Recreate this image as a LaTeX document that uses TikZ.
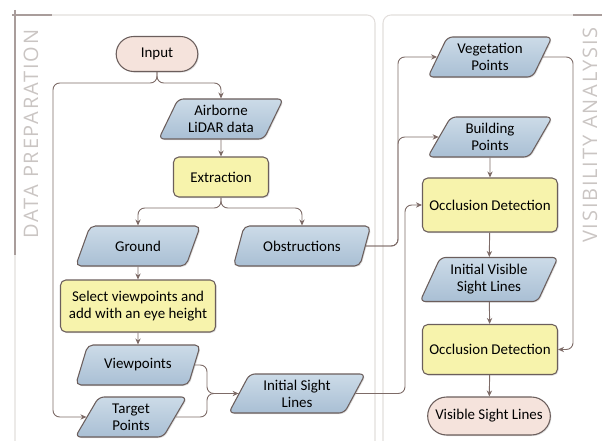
\documentclass[tikz,border=0pt]{standalone}
\usepackage{fontspec}
\setmainfont{Carlito}
\newfontfamily\sidefont[LetterSpace=9]{Open Sans}
\usepackage{tikz}
\usetikzlibrary{shapes.geometric,shapes.misc,arrows.meta,shadows}

\definecolor{edgegray}{HTML}{6B5E5C}
\definecolor{linkgray}{HTML}{7D6B67}
\definecolor{datatop}{HTML}{CCDBE8}
\definecolor{databot}{HTML}{A9BFD4}
\definecolor{procyellow}{HTML}{F7F3AC}
\definecolor{termpink}{HTML}{F5E3DC}
\definecolor{panelgray}{HTML}{E2DEDC}
\definecolor{accentgray}{HTML}{A99D9B}
\definecolor{sidegray}{HTML}{CAC5C3}

\tikzset{
  box/.style={draw=edgegray, line width=0.8pt, align=center, inner sep=2pt,
    font=\fontsize{11.2}{12.75}\selectfont,
    drop shadow={shadow xshift=0.8pt, shadow yshift=-0.8pt, opacity=0.25}},
  terminal/.style={box, rounded rectangle, fill=termpink},
  process/.style={box, rectangle, rounded corners=4pt, fill=procyellow},
  data/.style={box, trapezium, trapezium left angle=64, trapezium right angle=116,
    trapezium stretches=true, rounded corners=4pt,
    top color=datatop, bottom color=databot},
  flow/.style={draw=linkgray, line width=0.7pt, rounded corners=5pt,
    -{Stealth[length=4.5pt,width=4pt]}},
  link/.style={draw=linkgray, line width=0.7pt, rounded corners=5pt},
  panel/.style={draw=panelgray, line width=0.8pt},
  accent/.style={draw=accentgray, line width=0.9pt},
  side/.style={rotate=90, text=sidegray, font=\sidefont\fontsize{15}{18}\selectfont}
}

\begin{document}
\begin{tikzpicture}[x=0.75pt, y=-0.75pt]
  \useasboundingbox (0,0) rectangle (602,441);

  % Panels
  \draw[panel] (15,441) -- (15,15) [rounded corners=6pt] -- (375,15) -- (375,441);
  \draw[panel] (383,441) [rounded corners=6pt] -- (383,15) -- (602,15);
  \draw[accent] (12,15) -- (52,15);
  \draw[accent] (15,10) -- (15,255);
  \draw[accent] (573,15) -- (602,15);
  \node[side] (prep) at (31,134) {DATA PREPARATION};
  \node[side] (anal) at (590,135) {VISIBILITY ANALYSIS};

  % Data preparation
  \node[terminal, minimum width=87*0.75pt, minimum height=35*0.75pt] (input) at (157,54) {Input};
  \node[data, minimum width=125*0.75pt, minimum height=40*0.75pt] (lidar) at (221,119) {Airborne\\LiDAR data};
  \node[process, minimum width=95*0.75pt, minimum height=40*0.75pt] (extract) at (221,177) {Extraction};
  \node[data, minimum width=125*0.75pt, minimum height=40*0.75pt] (ground) at (138,246) {Ground};
  \node[data, minimum width=138*0.75pt, minimum height=40*0.75pt] (obstr) at (302,246) {Obstructions};
  \node[process, minimum width=155*0.75pt, minimum height=52*0.75pt] (select) at (138,306) {Select viewpoints and\\add with an eye height};
  \node[data, minimum width=125*0.75pt, minimum height=40*0.75pt] (view) at (138,365) {Viewpoints};
  \node[data, minimum width=112*0.75pt, minimum height=40*0.75pt] (target) at (131,417) {Target\\Points};
  \node[data, minimum width=137*0.75pt, minimum height=39*0.75pt] (sight) at (297,393.5) {Initial Sight\\Lines};

  % Visibility analysis
  \node[data, minimum width=125*0.75pt, minimum height=40*0.75pt] (veg) at (490,57) {Vegetation\\Points};
  \node[data, minimum width=125*0.75pt, minimum height=40*0.75pt] (build) at (490,137) {Building\\Points};
  \node[process, minimum width=135*0.75pt, minimum height=54*0.75pt] (occA) at (490,205) {Occlusion Detection};
  \node[data, minimum width=138*0.75pt, minimum height=44*0.75pt] (visA) at (489,279.5) {Initial Visible\\Sight Lines};
  \node[process, minimum width=135*0.75pt, minimum height=50*0.75pt] (occB) at (490,349.5) {Occlusion Detection};
  \node[terminal, minimum width=128*0.75pt, minimum height=38*0.75pt] (result) at (489,416) {Visible Sight Lines};

  % Connectors, left panel
  \draw[flow] (input.south) -- (157,83) -- (221,83) -- (lidar.north);
  \draw[flow] (input.south) -- (157,83) -- (53,83) -- (53,417) -- (target.west);
  \draw[flow] (lidar) -- (extract);
  \draw[flow] (extract.south) -- (221,208) -- (138,208) -- (ground.north);
  \draw[flow] (extract.south) -- (221,208) -- (302,208) -- (obstr.north);
  \draw[flow] (ground) -- (select);
  \draw[flow] (select) -- (view);
  \draw[flow] (view.east) -- (207,365) -- (207,393.5) -- (sight.west);
  \draw[link] (target.east) -- (207,417) -- (207,393.5) -- (sight.west);

  % Connectors, right panel
  \draw[flow] (obstr.east) -- (398,246) -- (398,57) -- (veg.west);
  \draw[flow] (obstr.east) -- (398,246) -- (398,137) -- (build.west);
  \draw[flow] (sight.east) -- (405,393.5) -- (405,205) -- (occA.west);
  \draw[flow] (build) -- (occA);
  \draw[flow] (occA) -- (visA);
  \draw[flow] (visA) -- (occB);
  \draw[flow] (veg.east) -- (573,57) -- (573,349.5) -- (occB.east);
  \draw[flow] (occB) -- (result);
\end{tikzpicture}
\end{document}
